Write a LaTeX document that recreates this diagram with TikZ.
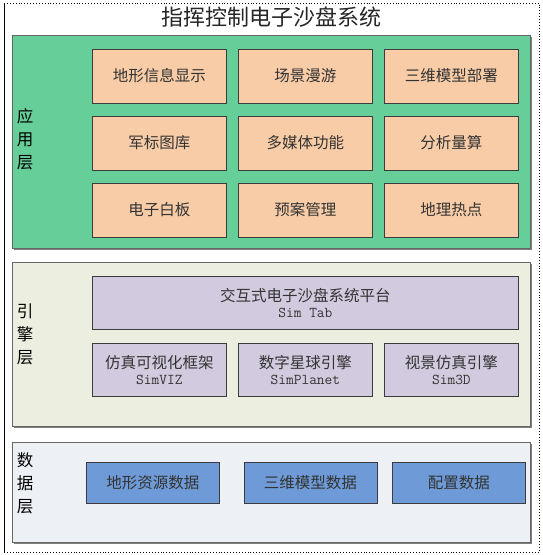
\documentclass[tikz,border=0pt]{standalone}
\usepackage{fontspec}
\newfontfamily\cjk{Noto Sans CJK SC}
\newcommand\lat{\ttfamily\fontsize{15}{17}\selectfont}
\definecolor{appgreen}{RGB}{102,206,152}
\definecolor{peach}{RGB}{248,204,167}
\definecolor{enginebg}{RGB}{236,239,223}
\definecolor{lilac}{RGB}{210,202,222}
\definecolor{databg}{RGB}{237,240,245}
\definecolor{bluebox}{RGB}{110,155,215}
\definecolor{edge}{RGB}{60,60,60}
\definecolor{shadowgray}{RGB}{128,128,128}
\tikzset{
  layer/.style={draw=shadowgray!80!black, line width=1pt, anchor=north west, inner sep=0pt},
  layershadow/.style={fill=shadowgray, anchor=north west, inner sep=0pt, draw=none},
  cell/.style={draw=edge, line width=0.8pt, anchor=north west, inner sep=0pt, align=center, font=\cjk\fontsize{15.5}{19}\selectfont, text=black!80},
  appbox/.style={cell, fill=peach, minimum width=134pt, minimum height=54pt},
  engbox/.style={cell, fill=lilac, minimum height=53pt},
  databox/.style={cell, fill=bluebox, minimum width=133pt, minimum height=41pt},
  vlabel/.style={anchor=north, align=center, font=\cjk\fontsize{16.5}{23}\selectfont, inner sep=0pt}
}
\begin{document}
\begin{tikzpicture}[x=1pt,y=-1pt]
\useasboundingbox (0,0) rectangle (542,555);
% outer frame
\draw[black, line width=0.9pt] (4,3) -- (4,552);
\draw[black, line width=0.9pt, dotted] (4,3) -- (539,3) -- (539,552) -- (4,552);
% title
\node[font=\cjk\fontsize{22}{24}\selectfont, text=black!85] (title) at (271,17) {指挥控制电子沙盘系统};

% application layer
\node[layershadow, minimum width=518pt, minimum height=213pt] at (14,37) {};
\node[layer, fill=appgreen, minimum width=518pt, minimum height=213pt] (app) at (12,35) {};
\node[vlabel] (applabel) at (25,108) {应\\用\\层};
\node[appbox] (a1) at (92,48.5) {地形信息显示};
\node[appbox] (a2) at (238,48.5) {场景漫游};
\node[appbox] (a3) at (384,48.5) {三维模型部署};
\node[appbox] (a4) at (92,115.5) {军标图库};
\node[appbox] (a5) at (238,115.5) {多媒体功能};
\node[appbox] (a6) at (384,115.5) {分析量算};
\node[appbox] (a7) at (92,182.5) {电子白板};
\node[appbox] (a8) at (238,182.5) {预案管理};
\node[appbox] (a9) at (384,182.5) {地理热点};

% engine layer
\node[layershadow, minimum width=518pt, minimum height=164pt] at (14,264) {};
\node[layer, fill=enginebg, minimum width=518pt, minimum height=164pt] (eng) at (12,262) {};
\node[vlabel] (englabel) at (25,304) {引\\擎\\层};
\node[engbox, minimum width=426pt] (e0) at (92,276) {交互式电子沙盘系统平台\\[-3pt]{\lat Sim Tab}};
\node[engbox, minimum width=134pt] (e1) at (92,343) {仿真可视化框架\\[-3pt]{\lat SimVIZ}};
\node[engbox, minimum width=134pt] (e2) at (238,343) {数字星球引擎\\[-3pt]{\lat SimPlanet}};
\node[engbox, minimum width=134pt] (e3) at (384,343) {视景仿真引擎\\[-3pt]{\lat Sim3D}};

% data layer
\node[layershadow, minimum width=518pt, minimum height=100pt] at (14,444) {};
\node[layer, fill=databg, minimum width=518pt, minimum height=100pt] (data) at (12,442) {};
\node[vlabel] (datalabel) at (25,452) {数\\据\\层};
\node[databox] (d1) at (86,462) {地形资源数据};
\node[databox] (d2) at (243.5,462) {三维模型数据};
\node[databox] (d3) at (392,462) {配置数据};
\end{tikzpicture}
\end{document}
